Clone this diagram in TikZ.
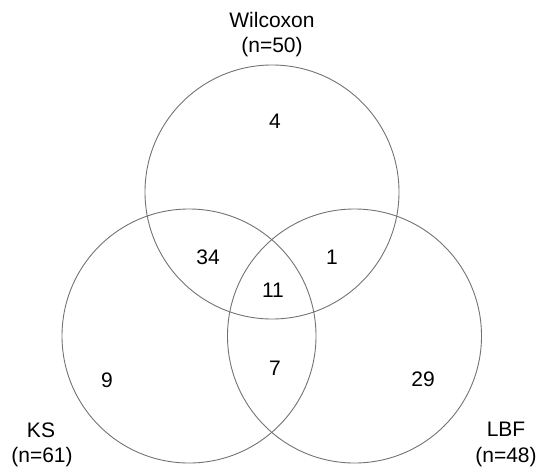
\documentclass[tikz,border=0pt]{standalone}
\usepackage{fontspec}
\setmainfont{Liberation Sans}
\begin{document}
\begin{tikzpicture}[x=1pt,y=-1pt,
  setcircle/.style={draw=black!55,line width=0.9pt},
  lbl/.style={anchor=base,inner sep=0pt,font=\fontsize{21}{25}\selectfont}]
\useasboundingbox (0,0) rectangle (537,469);
\draw[setcircle] (272,192) circle[radius=127];
\draw[setcircle] (189,336) circle[radius=127];
\draw[setcircle] (354.5,336) circle[radius=127];
\node[lbl] (wt) at (272,27) {Wilcoxon};
\node[lbl] (wn) at (272,52) {(n=50)};
\node[lbl] (kt) at (41,437) {KS};
\node[lbl] (kn) at (42,462) {(n=61)};
\node[lbl] (lt) at (506,436) {LBF};
\node[lbl] (ln) at (506,462) {(n=48)};
\node[lbl] (a) at (275,128) {4};
\node[lbl] (b) at (208,264) {34};
\node[lbl] (c) at (332,264) {1};
\node[lbl] (d) at (273,297) {11};
\node[lbl] (e) at (275,375) {7};
\node[lbl] (f) at (107,387) {9};
\node[lbl] (g) at (423,386) {29};
\end{tikzpicture}
\end{document}
